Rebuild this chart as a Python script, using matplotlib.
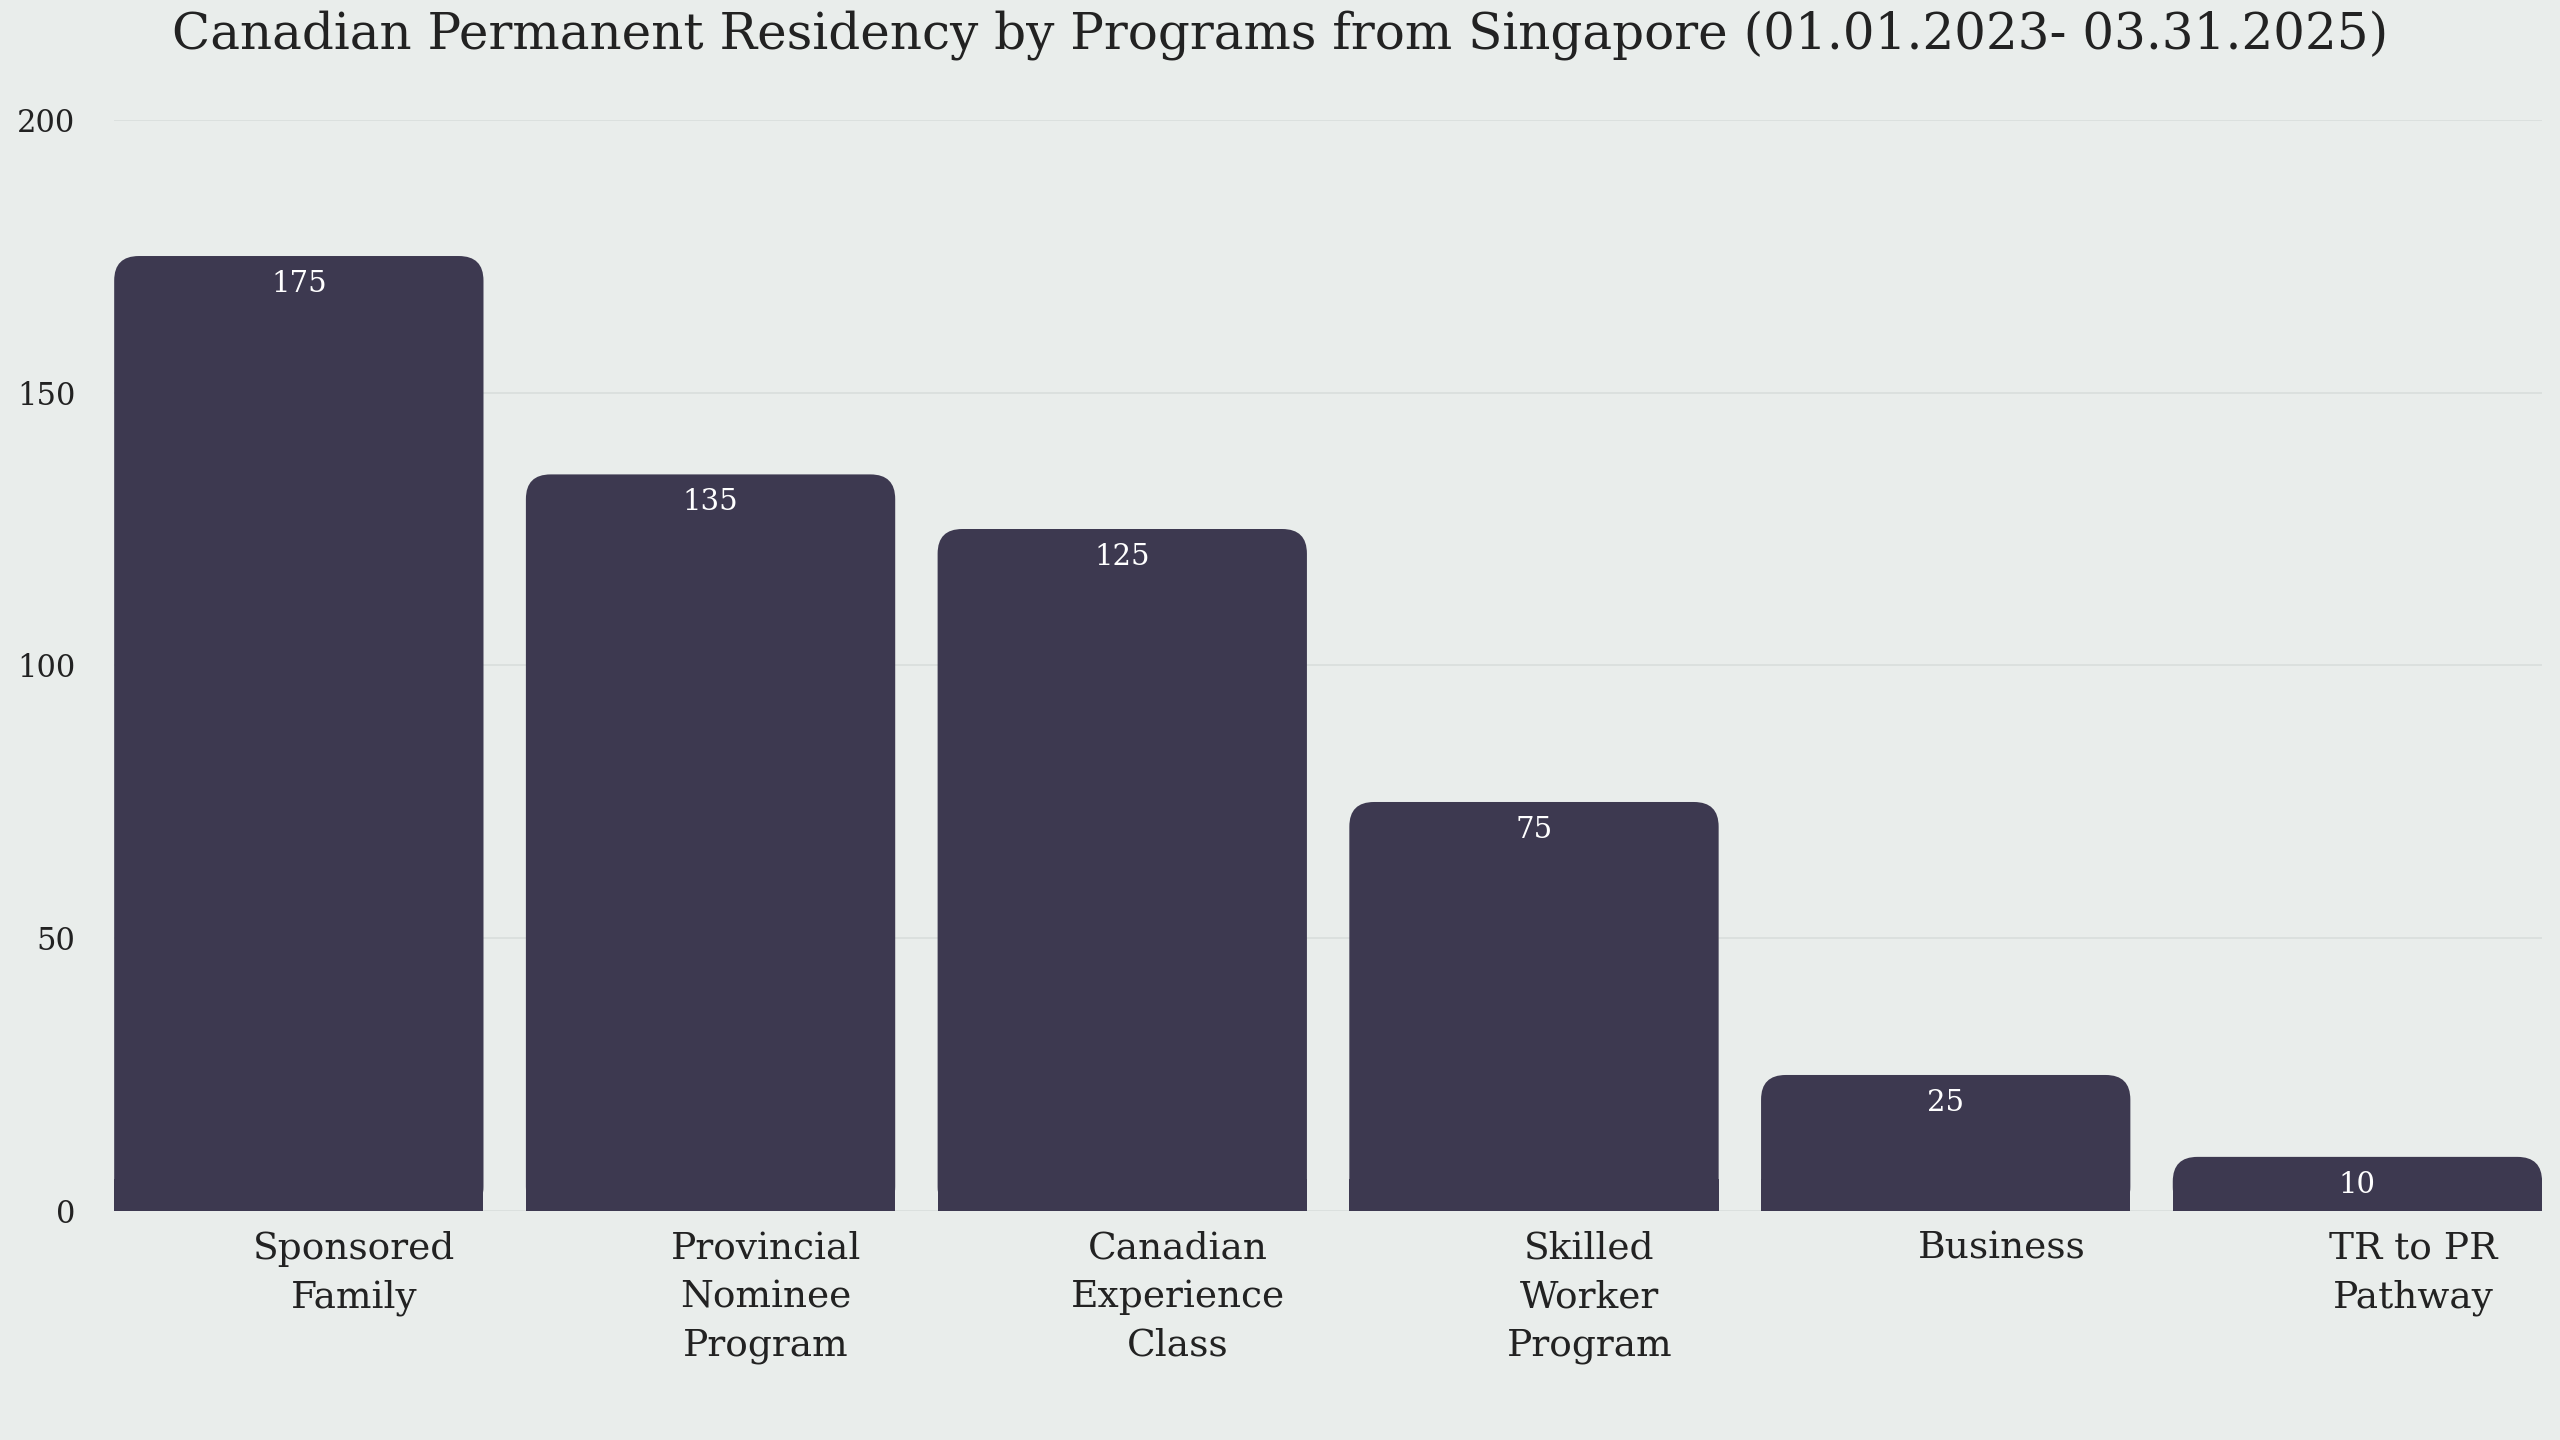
import matplotlib
matplotlib.use("Agg")
import matplotlib.pyplot as plt
from matplotlib.patches import FancyBboxPatch, Rectangle

categories = ["Sponsored\nFamily", "Provincial\nNominee\nProgram", "Canadian\nExperience\nClass",
              "Skilled\nWorker\nProgram", "Business", "TR to PR\nPathway"]
values = [175, 135, 125, 75, 25, 10]
yticks = [0, 50, 100, 150, 200]

bg = "#e9edeb"
barc = "#3d3950"
plt.rcParams["font.family"] = "DejaVu Serif"

fig = plt.figure(figsize=(25.6, 14.4), dpi=100, facecolor=bg)
ax = fig.add_axes([0.0446, 0.1587, 0.9484, 0.7583], facecolor=bg)
w = 0.897
ax.set_xlim(-w / 2, len(values) - 1 + w / 2)
ax.set_ylim(0, 200)
r = 0.06
for i, v in enumerate(values):
    ax.add_patch(FancyBboxPatch((i - w / 2, 0), w, v,
                                boxstyle=f"round,pad=0,rounding_size={r}",
                                mutation_aspect=75, fc=barc, ec="none", zorder=3))
    ax.add_patch(Rectangle((i - w / 2, 0), w, min(v / 2, 6), fc=barc, ec="none", zorder=3))
    ax.text(i, v - 2.5, str(v), ha="center", va="top", color="white", fontsize=21, zorder=4)

ax.set_yticks(yticks)
ax.set_yticklabels([str(t) for t in yticks], fontsize=22, color="#222222")
ax.grid(axis="y", color="#d9dedc", lw=1.2, zorder=0)
ax.set_xticks([])
for s in ax.spines.values():
    s.set_visible(False)
ax.tick_params(axis="y", length=0, pad=28)
for i, c in enumerate(categories):
    ax.text(i + 0.135, -3.5, c, ha="center", va="top", fontsize=27, color="#222222",
            linespacing=1.45)
fig.suptitle("Canadian Permanent Residency by Programs from Singapore (01.01.2023- 03.31.2025)",
             y=0.993, va="top", fontsize=36, color="#222222")
fig.savefig("out.png", facecolor=bg)
